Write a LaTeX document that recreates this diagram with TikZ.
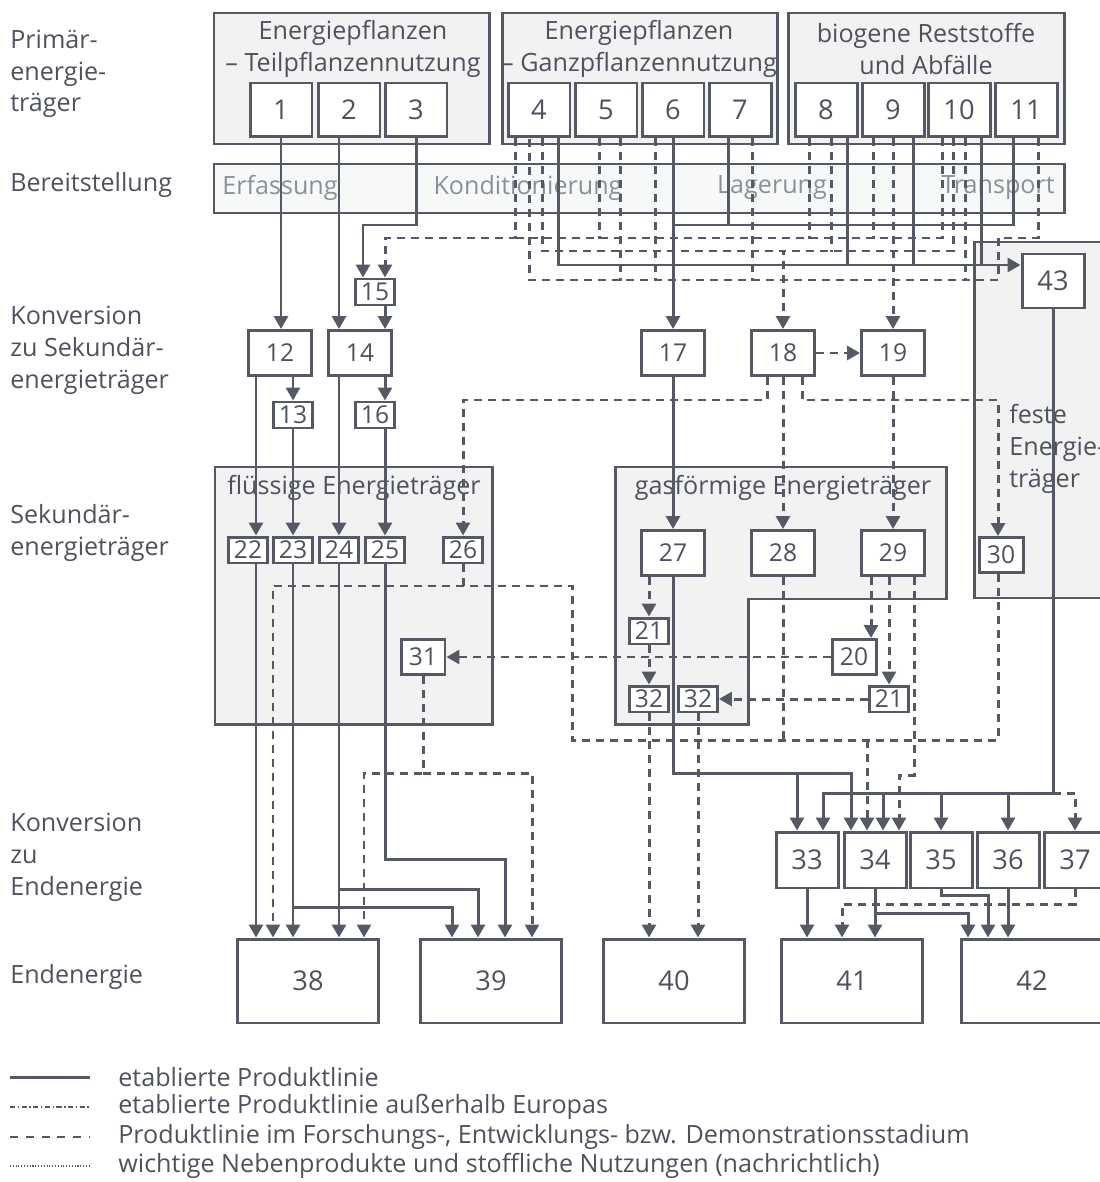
\documentclass[tikz,border=0pt]{standalone}
\usepackage{fontspec}
\setmainfont{Open Sans}
\usetikzlibrary{arrows.meta,calc}
\definecolor{linec}{RGB}{85,88,101}
\definecolor{txtc}{RGB}{78,81,94}
\definecolor{grpfill}{RGB}{242,242,242}
\definecolor{bandfill}{RGB}{247,249,249}
\definecolor{bandtxt}{RGB}{140,143,152}
\newcommand{\lblsize}{\fontsize{14.3}{18.1}\selectfont}
\newcommand{\numsize}{\fontsize{15.5}{17}\selectfont}
\newcommand{\smlsize}{\fontsize{14}{15}\selectfont}
\tikzset{
  box/.style={draw=linec, fill=white, line width=1.7pt, inner sep=0pt, text=txtc},
  topbox/.style={box, minimum width=1.24cm, minimum height=1.08cm, font=\numsize},
  convbox/.style={box, minimum width=1.26cm, minimum height=0.9cm, font=\smlsize},
  smallbox/.style={box, minimum width=0.78cm, minimum height=0.52cm, font=\smlsize},
  midbox/.style={box, minimum width=0.88cm, minimum height=0.7cm, font=\smlsize},
  endbox/.style={box, minimum width=1.24cm, minimum height=1.12cm, font=\numsize},
  finbox/.style={box, minimum width=2.82cm, minimum height=1.68cm, font=\numsize},
  lbl/.style={font=\lblsize, text=txtc, align=left, anchor=west, inner sep=0pt},
  ttl/.style={font=\lblsize, text=txtc, align=center, inner sep=0pt},
  bandlbl/.style={font=\lblsize, text=bandtxt, inner sep=0pt},
  grp/.style={draw=linec, fill=grpfill, line width=1.7pt},
  sol/.style={draw=linec, line width=1.7pt},
  solar/.style={sol, -{Triangle[length=0.26cm,width=0.28cm]}},
  das/.style={sol, dash pattern=on 0.16cm off 0.12cm},
  dasar/.style={das, -{Triangle[length=0.26cm,width=0.28cm]}},
}
\begin{document}
\begin{tikzpicture}[x=0.02cm, y=-0.02cm]
\useasboundingbox (0,0) rectangle (1099,1182);
% row labels
\node[lbl] (rPrim) at (10,74) {Primär-\\energie-\\träger};
\node[lbl] (rBer) at (10,185) {Bereitstellung};
\node[lbl] (rKs) at (10,350) {Konversion\\zu Sekundär-\\energieträger};
\node[lbl] (rSek) at (10,533) {Sekundär-\\energieträger};
\node[lbl] (rKe) at (10,857) {Konversion\\zu\\Endenergie};
\node[lbl] (rEnd) at (10,977) {Endenergie};
% groups
\draw[grp] (214,13) rectangle (489,144);
\draw[grp] (502,13) rectangle (777,144);
\draw[grp] (788,13) rectangle (1064,144);
\draw[grp, fill=bandfill] (214,164) rectangle (1064,213);
\draw[grp] (215,467) rectangle (492,724);
\draw[grp] (615,467) -- (946,467) -- (946,599) -- (748,599) -- (748,724) -- (615,724) -- cycle;
\draw[grp] (974,242) rectangle (1120,598);
\node[ttl] (tG1) at (353,49) {Energiepflanzen\\– Teilpflanzennutzung};
\node[ttl] (tG2) at (639,49) {Energiepflanzen\\– Ganzpflanzennutzung};
\node[ttl] (tG3) at (926,49) {biogene Reststoffe\\und Abfälle};
\node[bandlbl] (bErf) at (280,188) {Erfassung};
\node[bandlbl] (bKon) at (528,188) {Konditionierung};
\node[bandlbl] (bLag) at (772,188) {Lagerung};
\node[bandlbl] (bTra) at (998,188) {Transport};
\node[ttl] (tFl) at (354,488) {flüssige Energieträger};
\node[ttl] (tGas) at (783,488) {gasförmige Energieträger};
\node[lbl] (tFe) at (1009,449) {feste\\Energie-\\träger};
% boxes
\node[topbox] (n1) at (281,110) {1};
\node[topbox] (n2) at (349,110) {2};
\node[topbox] (n3) at (416,110) {3};
\node[topbox] (n4) at (539,110) {4};
\node[topbox] (n5) at (606,110) {5};
\node[topbox] (n6) at (673,110) {6};
\node[topbox] (n7) at (740,110) {7};
\node[topbox] (n8) at (826,110) {8};
\node[topbox] (n9) at (893,110) {9};
\node[topbox] (n10) at (959,110) {10};
\node[topbox] (n11) at (1026,110) {11};
\node[topbox] (n43) at (1053,281) {43};
\node[smallbox] (n15) at (375,292) {15};
\node[convbox] (n12) at (280,353) {12};
\node[convbox] (n14) at (360,353) {14};
\node[convbox] (n17) at (673,353) {17};
\node[convbox] (n18) at (783,353) {18};
\node[convbox] (n19) at (893,353) {19};
\node[smallbox] (n13) at (293,415) {13};
\node[smallbox] (n16) at (375,415) {16};
\node[smallbox] (n22) at (248,550) {22};
\node[smallbox] (n23) at (293,550) {23};
\node[smallbox] (n24) at (339,550) {24};
\node[smallbox] (n25) at (385,550) {25};
\node[smallbox] (n26) at (463,550) {26};
\node[convbox] (n27) at (673,553) {27};
\node[convbox] (n28) at (783,553) {28};
\node[convbox] (n29) at (893,553) {29};
\node[midbox] (n30) at (1001,555) {30};
\node[smallbox] (n21a) at (649,631) {21};
\node[midbox] (n31) at (423,657) {31};
\node[midbox] (n20) at (854,657) {20};
\node[smallbox] (n32a) at (649,699) {32};
\node[smallbox] (n32b) at (698,699) {32};
\node[smallbox] (n21b) at (889,699) {21};
\node[endbox] (n33) at (807,860) {33};
\node[endbox] (n34) at (875,860) {34};
\node[endbox] (n35) at (941,860) {35};
\node[endbox] (n36) at (1008,860) {36};
\node[endbox] (n37) at (1075,860) {37};
\node[finbox] (n38) at (308,981) {38};
\node[finbox] (n39) at (491,981) {39};
\node[finbox] (n40) at (674,981) {40};
\node[finbox] (n41) at (852,981) {41};
\node[finbox] (n42) at (1032,981) {42};
% top dashed collectors
\draw[dasar] ($(n4.south)+(-24,0)$) |- (385,238) -- ($(n15.north)+(10,0)$);
\draw[das] ($(n10.south)+(-17,0)$) |- (515,238);
\draw[das] ($(n5.south)+(-7,0)$) -- +(0,101);
\draw[das] ($(n8.south)+(-17,0)$) -- +(0,101);
\draw[das] ($(n9.south)+(-20,0)$) -- +(0,101);
\draw[dasar] ($(n4.south)+(3,0)$) |- (783,251) -- (n18.north);
\draw[das] ($(n10.south)+(-6,0)$) |- (783,251);
\draw[das] ($(n8.south)+(5,0)$) -- +(0,114);
\draw[das] ($(n11.south)+(12,0)$) |- (998,238) |- (529,280) -- ($(n4.south)+(-10,0)$);
\draw[das] ($(n5.south)+(14,0)$) -- +(0,143);
\draw[das] ($(n6.south)+(-18,0)$) -- +(0,143);
\draw[das] ($(n7.south)+(12,0)$) -- +(0,143);
\draw[das] ($(n10.south)+(6,0)$) -- +(0,143);
\draw[dasar] (n9.south) -- (n19.north);
% top solid lines
\draw[solar] (n1.south) -- (n1.south |- n12.north);
\draw[solar] ($(n2.south)+(-10,0)$) -- ($(n14.north)+(-21,0)$);
\draw[solar] (n3.south) |- (363,225) -- ($(n15.north)+(-12,0)$);
\draw[solar] ($(n15.south)+(10,0)$) -- ($(n14.north)+(25,0)$);
\draw[solar] (n6.south) -- (n17.north);
\draw[sol] ($(n11.south)+(-13,0)$) |- (673,225);
\draw[sol] ($(n7.south)+(-12,0)$) -- +(0,88);
\draw[solar] ($(n4.south)+(19,0)$) |- ($(n43.west)+(0,-16)$);
\draw[sol] ($(n8.south)+(21,0)$) -- +(0,128);
\draw[sol] ($(n9.south)+(20,0)$) -- +(0,128);
\draw[sol] ($(n10.south)+(22,0)$) -- +(0,128);
% conversion to secondary carriers
\draw[solar] ($(n12.south)+(-24,0)$) -- ($(n22.north)+(8,0)$);
\draw[solar] ($(n12.south)+(13,0)$) -- (n13.north);
\draw[solar] (n13.south) -- (n23.north);
\draw[solar] ($(n14.south)+(-21,0)$) -- (n24.north);
\draw[solar] ($(n14.south)+(25,0)$) -- ($(n16.north)+(10,0)$);
\draw[solar] ($(n16.south)+(10,0)$) -- (n25.north);
\draw[solar] (n17.south) -- (n27.north);
\draw[dasar] (n18.east) -- (n19.west);
\draw[dasar] ($(n18.south)+(-16,0)$) |- (463,400) -- (n26.north);
\draw[dasar] (n18.south) -- (n28.north);
\draw[dasar] ($(n18.south)+(19,0)$) |- (998,400) -- ($(n30.north)+(-3,0)$);
\draw[dasar] (n19.south) -- (n29.north);
% gaseous carriers
\draw[dasar] ($(n27.south)+(-24,0)$) -- (n21a.north);
\draw[dasar] (n21a.south) -- (n32a.north);
\draw[dasar] ($(n29.south)+(-22,0)$) -- ($(n20.north)+(17,0)$);
\draw[dasar] ($(n29.south)+(-4,0)$) -- (n21b.north);
\draw[dasar] (n20.west) -- (n31.east);
\draw[dasar] (n21b.west) -- (n32b.east);
\draw[das] (n28.south) -- +(0,164);
\draw[das] (n26.south) -- +(0,23);
\draw[dasar] ($(n30.south)+(-3,0)$) |- (572,740) |- (273,586) -- ($(n38.north)+(-35,0)$);
\draw[dasar] (867,740) -- ($(n34.north)+(-8,0)$);
\draw[dasar] ($(n29.south)+(21,0)$) |- (899,775) -- ($(n34.north)+(24,0)$);
\draw[solar] (n27.south) |- (851,773) -- ($(n34.north)+(-24,0)$);
\draw[solar] (797,773) -- ($(n33.north)+(-10,0)$);
\draw[solar] (n43.south) |- (823,793) -- ($(n33.north)+(16,0)$);
\draw[solar] (883,793) -- ($(n34.north)+(8,0)$);
\draw[solar] (941,793) -- (n35.north);
\draw[solar] (1008,793) -- (n36.north);
\draw[dasar] (1053,793) -| (n37.north);
% liquid carriers to final energy
\draw[solar] ($(n22.south)+(8,0)$) -- ($(n38.north)+(-52,0)$);
\draw[solar] (n23.south) -- ($(n38.north)+(-15,0)$);
\draw[solar] (293,907) -| ($(n39.north)+(-39,0)$);
\draw[solar] (n24.south) -- ($(n38.north)+(31,0)$);
\draw[solar] (339,889) -| ($(n39.north)+(-13,0)$);
\draw[solar] (n25.south) |- (505,859) -- ($(n39.north)+(14,0)$);
\draw[dasar] (n31.south) |- (364,773) -- ($(n38.north)+(56,0)$);
\draw[dasar] (423,773) -| ($(n39.north)+(41,0)$);
\draw[dasar] (n32a.south) -- ($(n40.north)+(-25,0)$);
\draw[dasar] (n32b.south) -- (n32b.south |- n40.north);
% conversion to final energy
\draw[solar] (n33.south) -- (n33.south |- n41.north);
\draw[solar] (n34.south) -- ($(n41.north)+(23,0)$);
\draw[solar] (875,913) -| ($(n42.north)+(-64,0)$);
\draw[solar] (n35.south) -- +(0,6) -| ($(n42.north)+(-44,0)$);
\draw[solar] (n36.south) -- ($(n42.north)+(-24,0)$);
\draw[dasar] (n37.south) -- +(0,15) -| ($(n41.north)+(-10,0)$);
% legend
\coordinate (lg1) at (10,1077);
\coordinate (lg2) at (10,1107);
\coordinate (lg3) at (10,1137);
\coordinate (lg4) at (10,1166);
\draw[sol] (lg1) -- +(80,0);
\draw[linec, line width=0.9pt, dash pattern=on 3pt off 1.4pt on 0.8pt off 1.4pt] (lg2) -- +(80,0);
\draw[linec, line width=1.2pt, dash pattern=on 4.5pt off 4.5pt] (lg3) -- +(80,0);
\draw[linec, line width=0.8pt, dash pattern=on 0.6pt off 1pt] (lg4) -- +(80,0);
\node[lbl] (lt1) at (118,1077) {etablierte Produktlinie};
\node[lbl] (lt2) at (118,1107) {etablierte Produktlinie außerhalb Europas};
\node[lbl] (lt3) at (118,1137) {Produktlinie im Forschungs-, Entwicklungs- bzw. Demonstrationsstadium};
\node[lbl] (lt4) at (118,1166) {wichtige Nebenprodukte und stoffliche Nutzungen (nachrichtlich)};
\end{tikzpicture}
\end{document}
